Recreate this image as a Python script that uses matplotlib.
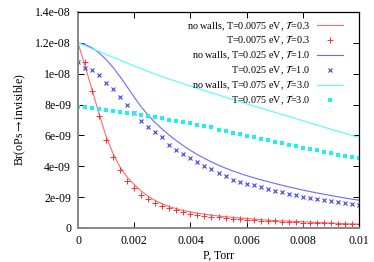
import numpy as np
import matplotlib
matplotlib.use('Agg')
import matplotlib.pyplot as plt

# gnuplot-like serif look
plt.rcParams['font.family'] = ['Liberation Serif', 'DejaVu Serif']
plt.rcParams['mathtext.fontset'] = 'stix'

#
# pressure grid (Torr), points every 0.00025
#
p = np.linspace(0.0, 0.01, 41)

# branching ratios, units of 1e-9
red_line = [12.0, 10.5, 8.96, 7.39, 5.94, 4.82, 3.93, 3.30, 2.81, 2.40, 2.05,
            1.78, 1.56, 1.38, 1.25, 1.13, 1.04, 0.96, 0.89, 0.83, 0.78,
            0.73, 0.69, 0.65, 0.61, 0.57, 0.54, 0.51, 0.48, 0.46, 0.44,
            0.42, 0.40, 0.38, 0.36, 0.34, 0.32, 0.30, 0.28, 0.27, 0.25]
red_pts = [12.0, 10.76, 8.86, 7.24, 5.68, 4.58, 3.74, 3.07, 2.57, 2.16, 1.86,
           1.62, 1.43, 1.27, 1.14, 1.02, 0.93, 0.84, 0.80, 0.73, 0.69,
           0.65, 0.61, 0.57, 0.54, 0.51, 0.48, 0.46, 0.43, 0.41, 0.39,
           0.37, 0.35, 0.34, 0.32, 0.31, 0.30, 0.29, 0.28, 0.27, 0.26]
blue_line = [12.0, 11.9, 11.68, 11.35, 10.92, 10.4, 9.8, 9.15, 8.48, 7.85, 7.3,
             6.82, 6.40, 6.01, 5.66, 5.33, 5.03, 4.76, 4.51, 4.28, 4.07,
             3.88, 3.705, 3.545, 3.395, 3.26, 3.13, 3.01, 2.89, 2.775, 2.665,
             2.56, 2.46, 2.365, 2.275, 2.19, 2.105, 2.025, 1.945, 1.87, 1.80]
blue_pts = [10.76, 10.37, 10.24, 9.89, 9.42, 9.0, 8.47, 7.97, 7.47, 6.91, 6.54,
            6.22, 5.92, 5.40, 5.08, 4.79, 4.54, 4.30, 4.02, 3.84, 3.54,
            3.35, 3.13, 3.0, 2.87, 2.78, 2.68, 2.50, 2.42, 2.33, 2.22,
            2.15, 2.03, 1.94, 1.88, 1.80, 1.74, 1.69, 1.62, 1.56, 1.51]
cyan_line = [12.0, 11.81, 11.62, 11.44, 11.25, 11.06, 10.87, 10.69, 10.5,
             10.32, 10.15, 9.97, 9.8, 9.65, 9.5, 9.35, 9.2, 9.05, 8.91, 8.76,
             8.62, 8.48, 8.33, 8.19, 8.05, 7.91, 7.78, 7.64, 7.5, 7.36, 7.23,
             7.09, 6.95, 6.81, 6.68, 6.54, 6.4, 6.27, 6.14, 6.0, 5.87]
cyan_pts = [7.86, 7.84, 7.80, 7.73, 7.67, 7.58, 7.54, 7.47, 7.45, 7.34, 7.28,
            7.19, 7.11, 7.02, 6.95, 6.87, 6.78, 6.65, 6.61, 6.52, 6.38,
            6.26, 6.16, 6.09, 5.98, 5.87, 5.77, 5.68, 5.55, 5.49, 5.38,
            5.29, 5.18, 5.10, 5.03, 4.92, 4.84, 4.75, 4.69, 4.62, 4.54]

labels = ['no walls, T=0.0075 eV, $\\mathcal{T}$=0.3',
          'T=0.0075 eV, $\\mathcal{T}$=0.3',
          'no walls, T=0.025 eV, $\\mathcal{T}$=1.0',
          'T=0.025 eV, $\\mathcal{T}$=1.0',
          'no walls, T=0.075 eV, $\\mathcal{T}$=3.0',
          'T=0.075 eV, $\\mathcal{T}$=3.0']

xticks = [0, 0.002, 0.004, 0.006, 0.008, 0.01]
xticklabels = ['0', '0.002', '0.004', '0.006', '0.008', '0.01']
yticks = [0, 2e-9, 4e-9, 6e-9, 8e-9, 1e-8, 1.2e-8, 1.4e-8]
yticklabels = ['0', '2e-09', '4e-09', '6e-09', '8e-09', '1e-08', '1.2e-08', '1.4e-08']

scale = 1e-9

fig = plt.figure(figsize=(3.74, 2.62), dpi=100)
ax = fig.add_axes([0.2086, 0.1298, 0.7513, 0.8244])

ax.plot(p, np.array(red_line) * scale, color='#ff6a6a', lw=0.8, label=labels[0])
ax.plot(p, np.array(red_pts) * scale, ls='none', marker='+', ms=3.8,
        mew=0.7, color='#ff3030', label=labels[1])
ax.plot(p, np.array(blue_line) * scale, color='#6a6aff', lw=0.8, label=labels[2])
ax.plot(p, np.array(blue_pts) * scale, ls='none', marker='x', ms=3.4,
        mew=0.8, color='#4040e0', label=labels[3])
ax.plot(p, np.array(cyan_line) * scale, color='#50ffff', lw=0.8, label=labels[4])
ax.plot(p, np.array(cyan_pts) * scale, ls='none', marker='s', ms=2.7,
        mew=0, color='#20f0f0', label=labels[5])

ax.set_xlim(0, 0.01)
ax.set_ylim(0, 1.4e-8)
ax.set_xticks(xticks)
ax.set_xticklabels(xticklabels)
ax.set_yticks(yticks)
ax.set_yticklabels(yticklabels)
ax.tick_params(direction='in', top=True, right=True, length=4, width=0.7,
               labelsize=8.5, pad=5)

# zero axes are grey in the original, border black
ax.spines['left'].set_color('#888888')
ax.spines['left'].set_linewidth(1.4)
ax.spines['bottom'].set_color('#888888')
ax.spines['bottom'].set_linewidth(1.4)
ax.spines['top'].set_linewidth(0.9)
ax.spines['right'].set_linewidth(0.9)

ax.set_xlabel('P, Torr', fontsize=8.5, labelpad=2)
ax.set_ylabel('Br(oPs$\\rightarrow$invisible)', fontsize=8.5)
ax.yaxis.set_label_coords(-0.178, 0.5)

leg = ax.legend(loc='upper right', bbox_to_anchor=(0.968, 1.0), frameon=False,
                markerfirst=False, fontsize=7.3, handlelength=2.6,
                handletextpad=0.6, labelspacing=0.15, borderaxespad=0.3,
                numpoints=1)

fig.savefig('out.png', dpi=100)
